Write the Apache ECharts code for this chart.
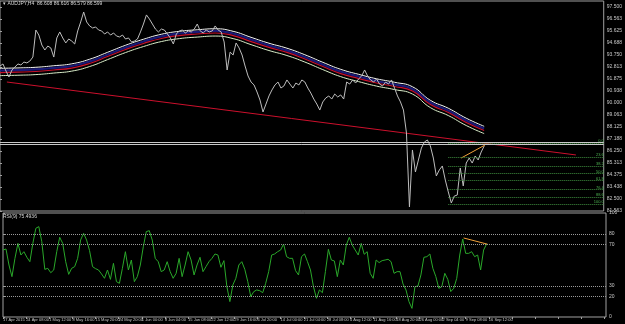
<!DOCTYPE html>
<html>
<head>
<meta charset="utf-8">
<script src="https://cdn.jsdelivr.net/npm/echarts@6/dist/echarts.min.js"></script>
<style>html,body{margin:0;background:#000}#c{width:625px;height:324px}</style>
</head>
<body>
<div id="c"></div>
<script>
// AUDJPY H4 close, one sample every 4 bars
const closes = [
  92.89, 93.05, 92.50, 92.03, 92.58, 92.81, 93.05, 92.97, 93.20, 93.13,
  93.28, 93.59, 95.70, 95.31, 94.53, 94.14, 94.45, 94.30, 93.59, 95.08,
  95.55, 95.08, 94.69, 95.00, 94.84, 94.61, 95.63, 96.33, 97.11, 96.33,
  96.02, 95.86, 95.94, 95.70, 95.63, 95.39, 95.55, 95.31, 95.47, 95.23,
  95.16, 95.31, 95.00, 95.08, 94.77, 94.84, 95.00, 95.55, 96.17, 96.88,
  96.56, 96.17, 95.78, 95.55, 95.78, 95.70, 95.39, 95.08, 94.61, 95.39,
  95.63, 95.70, 95.47, 95.63, 95.55, 95.78, 96.17, 95.63, 95.47, 95.70,
  95.55, 95.63, 96.02, 95.70, 95.55, 94.77, 92.58, 93.98, 93.75, 94.69,
  94.30, 93.75, 92.89, 92.11, 91.64, 91.41, 90.86, 90.23, 89.30, 89.92,
  90.55, 91.02, 91.41, 91.64, 91.17, 91.33, 91.80, 91.48, 91.17, 91.56,
  91.41, 91.80, 91.64, 91.17, 90.78, 90.31, 89.92, 89.45, 90.08, 90.39,
  90.55, 90.31, 90.70, 90.47, 90.63, 90.31, 91.64, 91.48, 91.80, 91.56,
  91.88, 92.11, 92.58, 92.11, 91.80, 91.64, 91.88, 91.48, 91.33, 91.64,
  91.48, 91.80, 91.17, 90.55, 90.08, 89.45, 87.66, 81.88, 86.33, 84.61,
  85.55, 86.48, 86.95, 87.11, 86.64, 85.70, 84.30, 84.77, 85.08, 83.98,
  83.05, 82.19, 82.73, 82.81, 84.92, 83.52, 85.31, 85.70, 85.31, 85.86,
  85.55, 86.17, 86.64
];
const rsi = [
  64.4, 65.4, 50.0, 38.8, 56.4, 70.8, 59.6, 62.8, 57.4, 53.2,
  70.8, 85.3, 86.9, 72.4, 45.8, 46.8, 42.6, 45.2, 62.8, 76.6,
  70.8, 53.2, 41.0, 46.8, 48.4, 56.4, 74.0, 80.5, 74.0, 63.8,
  48.4, 46.5, 45.2, 41.4, 37.2, 45.2, 36.2, 51.6, 34.0, 32.4,
  46.8, 62.8, 45.2, 54.8, 34.0, 38.8, 50.0, 67.6, 82.1, 83.0,
  74.0, 56.4, 53.2, 43.6, 45.2, 53.2, 43.6, 37.2, 42.0, 56.4,
  38.8, 50.0, 62.8, 54.8, 40.4, 50.0, 57.4, 43.6, 48.4, 53.2,
  56.4, 60.6, 59.6, 47.8, 54.2, 29.2, 14.8, 30.8, 37.2, 50.0,
  53.2, 45.8, 34.0, 19.6, 24.4, 26.0, 25.3, 23.4, 32.4, 43.6,
  59.6, 60.6, 62.8, 64.4, 70.2, 58.0, 56.4, 56.4, 44.6, 40.4,
  58.0, 60.6, 53.2, 45.2, 29.2, 18.0, 26.0, 23.4, 43.6, 65.1,
  54.8, 53.9, 38.8, 54.8, 50.0, 69.2, 76.6, 69.2, 64.4, 59.6,
  70.8, 60.3, 62.8, 42.0, 37.2, 54.8, 52.3, 54.2, 54.8, 55.5,
  53.2, 42.0, 43.6, 43.6, 31.8, 26.0, 14.8, 8.3, 29.2, 29.8,
  40.4, 57.4, 58.0, 60.6, 46.8, 38.8, 27.6, 29.2, 42.0, 36.2,
  24.4, 27.6, 37.2, 59.6, 75.0, 61.2, 61.2, 62.8, 58.0, 59.6,
  45.2, 64.4, 70.2
];
// moving average, one value every 6 samples, and the envelope offsets around it
const maStep = 6;
const maMid = [
  92.38, 92.41, 92.46, 92.58, 92.73, 93.09, 93.63, 94.18, 94.65, 95.04,
  95.27, 95.39, 95.47, 95.27, 94.80, 94.34, 93.95, 93.44, 92.85, 92.30,
  91.91, 91.56, 91.29, 90.94, 89.88, 89.26, 88.48, 87.85
];
const bandOffsets = { upper: 0.33, blue: 0.16, lower: -0.24 };

const dateLabels = ['17 Apr 2015', '24 Apr 08:00', '1 May 12:00', '8 May 16:00', '15 May 20:00',
  '24 May 20:00', '1 Jun 00:00', '8 Jun 04:00', '15 Jun 08:00', '22 Jun 12:00', '29 Jun 16:00',
  '6 Jul 20:00', '14 Jul 00:00', '21 Jul 04:00', '28 Jul 08:00', '4 Aug 12:00', '11 Aug 16:00',
  '18 Aug 20:00', '26 Aug 00:00', '2 Sep 04:00', '9 Sep 08:00', '16 Sep 12:00'];
const labelStep = 7.75;   // samples between date labels
const xMax = 202;

const fibLevels = [0, 23.6, 38.2, 50, 61.8, 76.4, 88.6, 100];
const fibHigh = 86.88, fibLow = 82.11, fibStart = 150;
const hLines = [86.95, 86.75];
const bidPrice = 86.608;
const trendPoints = [[2.3, 91.64], [192.7, 85.94]];
const orangePrice = [[154.3, 85.70], [162.3, 86.72]];
const orangeRsi = [[154.3, 76], [162.3, 70]];
const rsiLevels = [20, 30, 70, 80];
const rsiTicks = [0, 20, 30, 70, 80, 100];

const FONT = 'Liberation Sans';
const chart = echarts.init(document.getElementById('c'));

const band = (off) => maMid.map((v, i) => [i * maStep, +(v + off).toFixed(3)]);
const lineSeries = (data, color, width, extra) => Object.assign({
  type: 'line', data, showSymbol: false, symbol: 'none', silent: true,
  lineStyle: { color, width }, xAxisIndex: 0, yAxisIndex: 0
}, extra || {});

const fibLines = fibLevels.map(l => {
  const p = fibHigh - (fibHigh - fibLow) * l / 100;
  return [{ coord: [fibStart, p], label: { formatter: l.toFixed(1) } }, { coord: [xMax, p] }];
});

chart.setOption({
  animation: false,
  backgroundColor: '#000',
  textStyle: { fontFamily: FONT },
  graphic: [
    { type: 'text', left: 3, top: 1, style: { text: '\u25BE AUDJPY,H4  86.608 86.616 86.579 86.599', fill: '#d8d8d8', font: '5px ' + FONT } },
    { type: 'text', left: 3, top: 214, style: { text: 'RSI(9) 75.4936', fill: '#d8d8d8', font: '5px ' + FONT } }
  ],
  grid: [
    { left: 0, right: 19, top: 1, bottom: 113, show: true, borderColor: '#a0a0a0', borderWidth: 1 },
    { left: 0, right: 19, top: 213, bottom: 7, show: true, borderColor: '#a0a0a0', borderWidth: 1 }
  ],
  xAxis: [
    { type: 'value', gridIndex: 0, min: 0, max: xMax, show: false },
    { type: 'value', gridIndex: 1, min: 0, max: xMax, interval: labelStep,
      axisLine: { show: false }, splitLine: { show: false },
      axisTick: { show: true, length: 2, lineStyle: { color: '#a0a0a0' } },
      axisLabel: { color: '#c8c8c8', fontSize: 4, fontFamily: FONT, margin: 1, align: 'left',
        showMaxLabel: false,
        formatter: v => dateLabels[Math.round(v / labelStep)] || '' } }
  ],
  yAxis: [
    { type: 'value', gridIndex: 0, position: 'right', min: 81.5625, max: 97.96875, interval: 0.9375,
      axisLine: { show: false }, splitLine: { show: false },
      axisTick: { show: true, length: 2, lineStyle: { color: '#a0a0a0' } },
      axisLabel: { color: '#c8c8c8', fontSize: 5, fontFamily: FONT, margin: 3, showMaxLabel: false,
        formatter: v => v.toFixed(3) } },
    { type: 'value', gridIndex: 1, position: 'right', min: 0, max: 100,
      axisLine: { show: false }, splitLine: { show: false },
      axisTick: { show: true, length: 2, customValues: rsiTicks, lineStyle: { color: '#a0a0a0' } },
      axisLabel: { color: '#c8c8c8', fontSize: 5, fontFamily: FONT, margin: 3, customValues: rsiTicks } }
  ],
  series: [
    lineSeries(band(bandOffsets.upper), '#f4f4f4', 1, { smooth: true }),
    lineSeries(band(bandOffsets.blue), '#1a1a78', 2.2, { smooth: true }),
    lineSeries(band(0), '#c8102a', 1.2, { smooth: true }),
    lineSeries(band(bandOffsets.lower), '#d8ecc8', 1, { smooth: true }),
    lineSeries(trendPoints, '#cc102c', 1, {
      markLine: {
        silent: true, symbol: ['none', 'none'], animation: false,
        lineStyle: { color: '#c8c8c8', width: 1, type: 'solid' },
        label: { show: false },
        data: hLines.map(p => ({ yAxis: p })).concat([{
          yAxis: bidPrice, lineStyle: { opacity: 0 },
          label: { show: true, position: 'end', distance: 1, formatter: bidPrice.toFixed(3),
            color: '#fff', fontSize: 5, fontFamily: FONT, backgroundColor: '#000',
            borderColor: '#e0e0e0', borderWidth: 0.6, padding: [0, 1] }
        }])
      }
    }),
    lineSeries(closes.map((v, i) => [i, v]), '#bdbdbd', 1, {
      markLine: {
        silent: true, symbol: ['none', 'none'], animation: false,
        lineStyle: { color: '#3f8f3f', width: 1, type: 'dotted' },
        label: { show: true, position: 'insideEndTop', distance: 0, color: '#4caf50', fontSize: 4, fontFamily: FONT },
        data: fibLines
      }
    }),
    lineSeries(orangePrice, '#f2a23a', 1),
    lineSeries(rsi.map((v, i) => [i, v]), '#2aa82a', 1, {
      xAxisIndex: 1, yAxisIndex: 1,
      markLine: {
        silent: true, symbol: ['none', 'none'], animation: false,
        lineStyle: { color: '#9a9a9a', width: 1, type: 'dotted' },
        label: { show: false },
        data: rsiLevels.map(l => ({ yAxis: l }))
      }
    }),
    lineSeries(orangeRsi, '#f2a23a', 1, { xAxisIndex: 1, yAxisIndex: 1 })
  ]
});
</script>
</body>
</html>
